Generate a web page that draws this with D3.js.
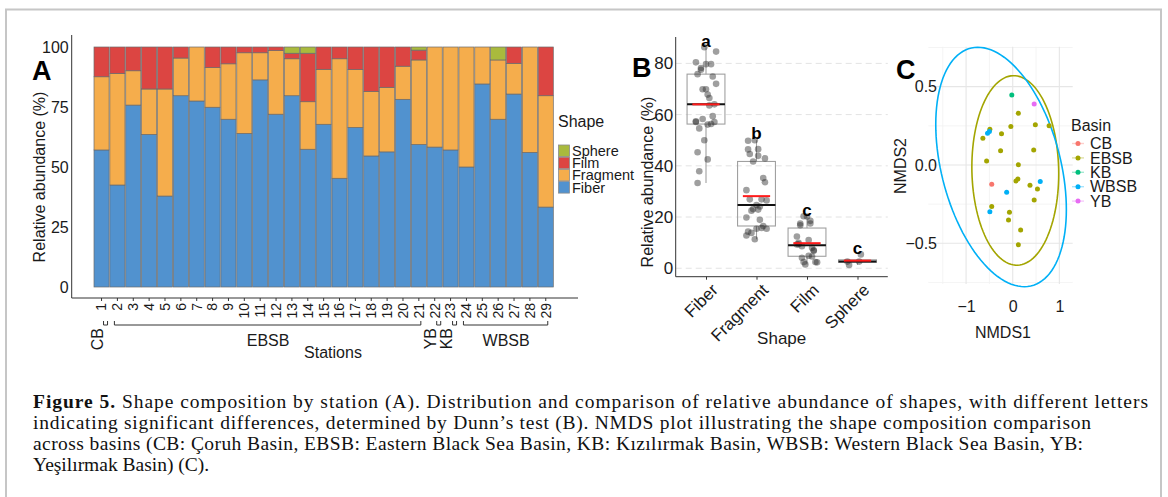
<!DOCTYPE html>
<html>
<head>
<meta charset="utf-8">
<script src="https://cdn.jsdelivr.net/npm/d3@7"></script>
<style>
  body { margin: 0; background: #fff; }
  svg { display: block; font-family: "Liberation Sans", Arial, Helvetica, sans-serif; }
</style>
</head>
<body>
<svg id="fig" width="1168" height="497"></svg>
<script>
// ---- panel A: shape composition by station (%) ----
const stations = ["1","2","3","4","5","6","7","8","9","10","11","12","13","14","15",
                  "16","17","18","19","20","21","22","23","24","25","26","27","28","29"];
const fiber    = [57.1, 42.5, 75.8, 63.6, 37.9, 79.7, 77.5, 74.9, 69.9, 64.0, 86.3, 72.0, 79.7, 57.4, 67.8,
                  45.3, 66.5, 54.6, 56.3, 78.2, 59.4, 58.3, 57.1, 50.0, 84.6, 69.9, 80.4, 56.1, 33.3];
const fragment = [30.5, 46.5, 14.3, 18.9, 44.6, 15.7, 22.5, 16.5, 23.1, 33.6, 11.3, 26.5, 15.4, 19.8, 22.9,
                  49.8, 24.1, 26.9, 26.9, 13.8, 35.2, 41.7, 42.9, 50.0, 15.4, 24.7, 12.8, 43.9, 46.4];
const film     = [12.4, 11.0, 9.9, 17.5, 17.5, 4.6, 0, 8.6, 7.0, 2.4, 2.4, 1.5, 2.3, 20.2, 9.3,
                  4.9, 9.4, 18.5, 16.8, 8.0, 4.1, 0, 0, 0, 0, 0, 6.8, 0, 20.3];
const sphere   = [0, 0, 0, 0, 0, 0, 0, 0, 0, 0, 0, 0, 2.6, 2.6, 0,
                  0, 0, 0, 0, 0, 1.3, 0, 0, 0, 0, 5.4, 0, 0, 0];
const yTicksA = [0, 25, 50, 75, 100];

const basinNames = ["CB", "EBSB", "YB", "KB", "WBSB"];
const basinFirst = ["1", "2", "22", "23", "24"];
const basinLast  = ["1", "21", "22", "23", "29"];

// ---- panel B ----
const shapes = ["Fiber", "Fragment", "Film", "Sphere"];
const dunnLetters = ["a", "b", "c", "c"];
const yTicksB = [0, 20, 40, 60, 80];

// ---- panel C: NMDS scores ----
const nmdsBasin = ["KB", "YB",
  "EBSB","EBSB","EBSB","EBSB","EBSB","EBSB","EBSB","EBSB","EBSB","EBSB","EBSB",
  "EBSB","EBSB","EBSB","EBSB","EBSB","EBSB","EBSB","EBSB","EBSB","EBSB",
  "CB", "WBSB","WBSB","WBSB","WBSB","WBSB"];
const nmds1 = [-0.02, 0.46,
  0.12, -0.04, 0.485, 0.78, -0.49, -0.24, -0.64, -0.26, 0.45, -0.56, 0.12,
  0.11, 0.07, 0.37, 0.53, 0.46, -0.45, -0.07, -0.09, 0.17, 0.12,
  -0.45, -0.54, -0.50, -0.13, 0.59, -0.49];
const nmds2 = [0.447, 0.389,
  0.33, 0.245, 0.257, 0.25, 0.228, 0.20, 0.17, 0.09, 0.096, 0.026, 0.002,
  -0.089, -0.102, -0.13, -0.153, -0.223, -0.266, -0.302, -0.351, -0.415, -0.51,
  -0.123, 0.202, 0.213, -0.174, -0.106, -0.298];
const basinLegend = ["CB", "EBSB", "KB", "WBSB", "YB"];
// ellipses: centre, variances and covariance (NMDS units)
const ellBasin = ["EBSB", "WBSB"];
const ellCx  = [0.055, -0.25];
const ellCy  = [-0.035, -0.013];
const ellVx  = [0.867, 1.96];
const ellVy  = [0.366, 0.584];
const ellCov = [-0.02, -0.38];

const captionLines = [
  "Shape composition by station (A). Distribution and comparison of relative abundance of shapes, with different letters",
  "indicating significant differences, determined by Dunn\u2019s test (B). NMDS plot illustrating the shape composition comparison",
  "across basins (CB: \u00c7oruh Basin, EBSB: Eastern Black Sea Basin, KB: K\u0131z\u0131l\u0131rmak Basin, WBSB: Western Black Sea Basin, YB:",
  "Ye\u015fil\u0131rmak Basin) (C)."
];

const shapeColor = { Fiber: "#5192cf", Fragment: "#f5ad4c", Film: "#dc4542", Sphere: "#a9ba3d" };
const basinColor = { CB: "#F8766D", EBSB: "#A3A500", KB: "#00BF7D", WBSB: "#00B0F6", YB: "#E76BF3" };
const ink = "#1a1a1a";

const svg = d3.select("#fig");

// figure frame
svg.append("rect")
  .attr("x", 6).attr("y", 9.5).attr("width", 1155).attr("height", 600)
  .attr("fill", "none").attr("stroke", "#c6c6c6").attr("stroke-width", 2);

// ================= A =================
const xA = d3.scaleBand().domain(stations).range([94, 553.3]).paddingInner(0.05);
const yA = d3.scaleLinear().domain([0, 100]).range([287, 47]);

const rows = stations.map((s, i) => ({
  station: s, Fiber: fiber[i], Fragment: fragment[i], Film: film[i], Sphere: sphere[i]
}));
const stacked = d3.stack().keys(shapes)(rows);

const gA = svg.append("g");
gA.selectAll("g.layer")
  .data(stacked)
  .join("g")
  .attr("class", "layer")
  .attr("fill", d => shapeColor[d.key])
  .selectAll("rect")
  .data(d => d.filter(s => s[1] - s[0] > 0))
  .join("rect")
  .attr("x", d => xA(d.data.station))
  .attr("width", xA.bandwidth())
  .attr("y", d => yA(d[1]))
  .attr("height", d => yA(d[0]) - yA(d[1]))
  .attr("stroke", "#6b6b6b")
  .attr("stroke-width", 0.7);

// axis lines
gA.append("line").attr("x1", 71.7).attr("x2", 71.7).attr("y1", 35).attr("y2", 298)
  .attr("stroke", "#333").attr("stroke-width", 1);
gA.append("line").attr("x1", 71.7).attr("x2", 578).attr("y1", 298).attr("y2", 298)
  .attr("stroke", "#333").attr("stroke-width", 1);

const yAxisA = gA.append("g").attr("transform", "translate(71.7,0)")
  .call(d3.axisLeft(yA).tickValues(yTicksA).tickSize(0).tickPadding(3));
yAxisA.select(".domain").remove();
yAxisA.selectAll("text").attr("font-size", 16).attr("fill", ink).attr("font-family", null);

const xAxisA = gA.append("g").attr("transform", "translate(0,298)")
  .call(d3.axisBottom(xA).tickSize(3));
xAxisA.select(".domain").remove();
xAxisA.selectAll("line").attr("stroke", "#333");
xAxisA.selectAll("text")
  .attr("font-size", 14).attr("fill", ink).attr("font-family", null)
  .attr("transform", "rotate(-90)")
  .attr("x", -5).attr("y", 0).attr("dy", "0.35em")
  .style("text-anchor", "end");

// basin brackets below the station labels
const bracketY = 325;
basinNames.forEach((b, i) => {
  const x0 = xA(basinFirst[i]) + xA.bandwidth() / 2;
  const x1 = xA(basinLast[i]) + xA.bandwidth() / 2;
  const single = basinFirst[i] === basinLast[i];
  const l = single ? x0 + 2 : x0 - 3;
  const r = single ? x0 + 6 : x1 + 2;
  gA.append("path")
    .attr("d", `M${l},${bracketY - 4}V${bracketY}H${r}V${bracketY - 4}`)
    .attr("fill", "none").attr("stroke", "#333").attr("stroke-width", 1);
  if (single) {
    gA.append("text")
      .attr("transform", `translate(${x0 - 4},${bracketY + 3}) rotate(-90)`)
      .attr("dy", "0.35em")
      .attr("text-anchor", "end")
      .attr("font-size", 16).attr("fill", ink)
      .text(b);
  } else {
    gA.append("text")
      .attr("x", (x0 + x1) / 2).attr("y", bracketY + 21)
      .attr("text-anchor", "middle")
      .attr("font-size", 16).attr("fill", ink)
      .text(b);
  }
});

gA.append("text").attr("x", 333).attr("y", 358).attr("text-anchor", "middle")
  .attr("font-size", 16).attr("fill", ink).text("Stations");
gA.append("text")
  .attr("transform", "translate(45,177) rotate(-90)")
  .attr("text-anchor", "middle").attr("font-size", 16).attr("fill", ink)
  .text("Relative abundance (%)");
gA.append("text").attr("x", 32).attr("y", 80).attr("font-size", 27)
  .attr("font-weight", "bold").attr("fill", "#000").text("A");

// legend A
const legA = svg.append("g").attr("transform", "translate(558,0)");
legA.append("text").attr("x", 0).attr("y", 127).attr("font-size", 16).attr("fill", ink).text("Shape");
shapes.slice().reverse().forEach((s, i) => {
  const y = 145 + i * 12.2;
  legA.append("rect").attr("x", 0.5).attr("y", y).attr("width", 11).attr("height", 11.5)
    .attr("fill", shapeColor[s]).attr("stroke", "#8c8c8c").attr("stroke-width", 0.8);
  legA.append("text").attr("x", 14).attr("y", y + 6).attr("dy", "0.35em")
    .attr("font-size", 14.5).attr("fill", ink).text(s);
});

// ================= B =================
const seriesB = { Fiber: fiber, Fragment: fragment, Film: film, Sphere: sphere };
const xB = d3.scalePoint().domain(shapes).range([675.7, 887.8]).padding(0.6);
const yB = d3.scaleLinear().domain([-3.3, 90.3]).range([276.7, 37]);
const stepB = xB.step();
const gB = svg.append("g");

// dashed major grid
gB.selectAll("line.grid").data(yTicksB).join("line")
  .attr("class", "grid")
  .attr("x1", 675.7).attr("x2", 887.8)
  .attr("y1", d => yB(d)).attr("y2", d => yB(d))
  .attr("stroke", "#e3e3e3").attr("stroke-width", 1).attr("stroke-dasharray", "6,4");

shapes.forEach((s, k) => {
  const vals = seriesB[s].filter(v => v > 0);
  const sorted = vals.slice().sort(d3.ascending);
  const q1 = d3.quantile(sorted, 0.25), med = d3.quantile(sorted, 0.5), q3 = d3.quantile(sorted, 0.75);
  const iqr = q3 - q1;
  const lo = d3.min(sorted.filter(v => v >= q1 - 1.5 * iqr));
  const hi = d3.max(sorted.filter(v => v <= q3 + 1.5 * iqr));
  const mean = d3.mean(vals);
  const cx = xB(s);
  const bw = stepB * 0.75;

  gB.append("line").attr("x1", cx).attr("x2", cx).attr("y1", yB(q3)).attr("y2", yB(hi))
    .attr("stroke", "#a0a0a0").attr("stroke-width", 1.1);
  gB.append("line").attr("x1", cx).attr("x2", cx).attr("y1", yB(q1)).attr("y2", yB(lo))
    .attr("stroke", "#a0a0a0").attr("stroke-width", 1.1);
  gB.append("rect").attr("x", cx - bw / 2).attr("width", bw)
    .attr("y", yB(q3)).attr("height", Math.max(1, yB(q1) - yB(q3)))
    .attr("fill", "none").attr("stroke", "#a0a0a0").attr("stroke-width", 1.1);

  // jittered points (deterministic spread)
  gB.selectAll(`circle.p${k}`).data(vals).join("circle")
    .attr("class", `p${k}`)
    .attr("cx", (d, i) => cx + (((i * 7) % 13) - 6) / 6 * stepB * 0.2)
    .attr("cy", d => yB(d))
    .attr("r", 3.3)
    .attr("fill", "#2b2b2b").attr("fill-opacity", 0.45);

  gB.append("line").attr("x1", cx - bw / 2).attr("x2", cx + bw / 2)
    .attr("y1", yB(med)).attr("y2", yB(med))
    .attr("stroke", "#111").attr("stroke-width", 2);
  gB.append("line").attr("x1", cx - stepB * 0.27).attr("x2", cx + stepB * 0.27)
    .attr("y1", yB(mean)).attr("y2", yB(mean))
    .attr("stroke", "#ff1a1a").attr("stroke-width", 2);

  gB.append("text").attr("x", cx).attr("y", yB(d3.max(vals) + 2.6)).attr("dy", "0.35em")
    .attr("text-anchor", "middle").attr("font-size", 17).attr("font-weight", "bold")
    .attr("fill", "#000").text(dunnLetters[k]);
});

gB.append("line").attr("x1", 675.7).attr("x2", 675.7).attr("y1", 37).attr("y2", 276.7)
  .attr("stroke", "#333");
gB.append("line").attr("x1", 675.7).attr("x2", 887.8).attr("y1", 276.7).attr("y2", 276.7)
  .attr("stroke", "#333");

const yAxisB = gB.append("g").attr("transform", "translate(675.7,0)")
  .call(d3.axisLeft(yB).tickValues(yTicksB).tickSize(0).tickPadding(2.5));
yAxisB.select(".domain").remove();
yAxisB.selectAll("text").attr("font-size", 17).attr("fill", ink).attr("font-family", null);

const xAxisB = gB.append("g").attr("transform", "translate(0,276.7)")
  .call(d3.axisBottom(xB).tickSize(3));
xAxisB.select(".domain").remove();
xAxisB.selectAll("line").attr("stroke", "#333");
xAxisB.selectAll("text")
  .attr("font-size", 17).attr("fill", ink).attr("font-family", null)
  .attr("transform", "translate(4,6) rotate(-45)")
  .attr("x", 0).attr("y", 0).attr("dy", "0.7em")
  .style("text-anchor", "end");

gB.append("text").attr("x", 781.7).attr("y", 344).attr("text-anchor", "middle")
  .attr("font-size", 17).attr("fill", ink).text("Shape");
gB.append("text")
  .attr("transform", "translate(647,182) rotate(-90)")
  .attr("dy", "0.35em")
  .attr("text-anchor", "middle").attr("font-size", 16).attr("fill", ink)
  .text("Relative abundance (%)");
gB.append("text").attr("x", 632).attr("y", 77).attr("font-size", 27)
  .attr("font-weight", "bold").attr("fill", "#000").text("B");

// ================= C =================
const xC = d3.scaleLinear().domain([-1.81, 1.286]).range([928.3, 1072.7]);
const yC = d3.scaleLinear().domain([-0.76, 0.755]).range([284, 46.7]);
const gC = svg.append("g");

const minorX = [-1.5, -0.5, 0.5], majorX = [-1, 0, 1];
const minorY = [-0.75, -0.25, 0.25, 0.75], majorY = [-0.5, 0, 0.5];
gC.selectAll("line.vmin").data(minorX).join("line").attr("class", "vmin")
  .attr("x1", d => xC(d)).attr("x2", d => xC(d)).attr("y1", 46.7).attr("y2", 284)
  .attr("stroke", "#f1f1f1").attr("stroke-width", 0.8);
gC.selectAll("line.hmin").data(minorY).join("line").attr("class", "hmin")
  .attr("y1", d => yC(d)).attr("y2", d => yC(d)).attr("x1", 928.3).attr("x2", 1072.7)
  .attr("stroke", "#f1f1f1").attr("stroke-width", 0.8);
gC.selectAll("line.vmaj").data(majorX).join("line").attr("class", "vmaj")
  .attr("x1", d => xC(d)).attr("x2", d => xC(d)).attr("y1", 46.7).attr("y2", 284)
  .attr("stroke", "#e6e6e6").attr("stroke-width", 1.1);
gC.selectAll("line.hmaj").data(majorY).join("line").attr("class", "hmaj")
  .attr("y1", d => yC(d)).attr("y2", d => yC(d)).attr("x1", 928.3).attr("x2", 1072.7)
  .attr("stroke", "#e6e6e6").attr("stroke-width", 1.1);

const ellLine = d3.line().x(d => xC(d[0])).y(d => yC(d[1])).curve(d3.curveLinearClosed);
ellBasin.forEach((b, i) => {
  const sx = Math.sqrt(ellVx[i]);
  const c21 = ellCov[i] / sx;
  const c22 = Math.sqrt(ellVy[i] - c21 * c21);
  const pts = d3.range(0, 120).map(j => {
    const t = j / 120 * 2 * Math.PI;
    return [ellCx[i] + sx * Math.cos(t), ellCy[i] + c21 * Math.cos(t) + c22 * Math.sin(t)];
  });
  gC.append("path").attr("d", ellLine(pts)).attr("fill", "none")
    .attr("stroke", basinColor[b]).attr("stroke-width", 1.6);
});

gC.selectAll("circle.nm").data(nmds1).join("circle").attr("class", "nm")
  .attr("cx", d => xC(d))
  .attr("cy", (d, i) => yC(nmds2[i]))
  .attr("r", 2.5)
  .attr("fill", (d, i) => basinColor[nmdsBasin[i]]);

const xAxisC = gC.append("g").attr("transform", "translate(0,298)")
  .call(d3.axisBottom(xC).tickValues(majorX).tickSize(0).tickFormat(d3.format("d")));
xAxisC.select(".domain").remove();
xAxisC.selectAll("text").attr("font-size", 16).attr("fill", ink).attr("font-family", null)
  .text(d => d < 0 ? "\u2212" + Math.abs(d) : d);

const yAxisC = gC.append("g").attr("transform", "translate(938,0)")
  .call(d3.axisLeft(yC).tickValues(majorY).tickSize(0).tickPadding(1));
yAxisC.select(".domain").remove();
yAxisC.selectAll("text").attr("font-size", 16).attr("fill", ink).attr("font-family", null)
  .text(d => (d < 0 ? "\u2212" : "") + d3.format(".1f")(Math.abs(d)));

gC.append("text").attr("x", 1003).attr("y", 338).attr("text-anchor", "middle")
  .attr("font-size", 16).attr("fill", ink).text("NMDS1");
gC.append("text")
  .attr("transform", "translate(900,166) rotate(-90)").attr("dy", "0.35em")
  .attr("text-anchor", "middle").attr("font-size", 16).attr("fill", ink).text("NMDS2");
gC.append("text").attr("x", 896).attr("y", 79).attr("font-size", 27)
  .attr("font-weight", "bold").attr("fill", "#000").text("C");

// legend C
const legC = svg.append("g").attr("transform", "translate(1071,0)");
legC.append("text").attr("x", 0).attr("y", 131).attr("font-size", 16).attr("fill", ink).text("Basin");
basinLegend.forEach((b, i) => {
  const y = 143.5 + i * 14.4;
  legC.append("line").attr("x1", 1).attr("x2", 13).attr("y1", y).attr("y2", y)
    .attr("stroke", basinColor[b]).attr("stroke-opacity", 0.35).attr("stroke-width", 1.4);
  legC.append("circle").attr("cx", 7).attr("cy", y).attr("r", 2.5).attr("fill", basinColor[b]);
  legC.append("text").attr("x", 19).attr("y", y).attr("dy", "0.35em")
    .attr("font-size", 16).attr("fill", ink).text(b);
});

// ================= caption =================
const capWidths = [1115, 1058, 1050, null];
const cap = svg.append("g").attr("font-family", "'Liberation Serif', 'Times New Roman', serif")
  .attr("font-size", 19.5).attr("fill", "#111");
captionLines.forEach((line, i) => {
  const t = cap.append("text").attr("x", 33).attr("y", 408 + i * 21);
  if (capWidths[i]) t.attr("textLength", capWidths[i]).attr("lengthAdjust", "spacing");
  if (i === 0) {
    t.append("tspan").attr("font-weight", "bold").text("Figure 5. ");
    t.append("tspan").text(line);
  } else {
    t.text(line);
  }
});
</script>
</body>
</html>
